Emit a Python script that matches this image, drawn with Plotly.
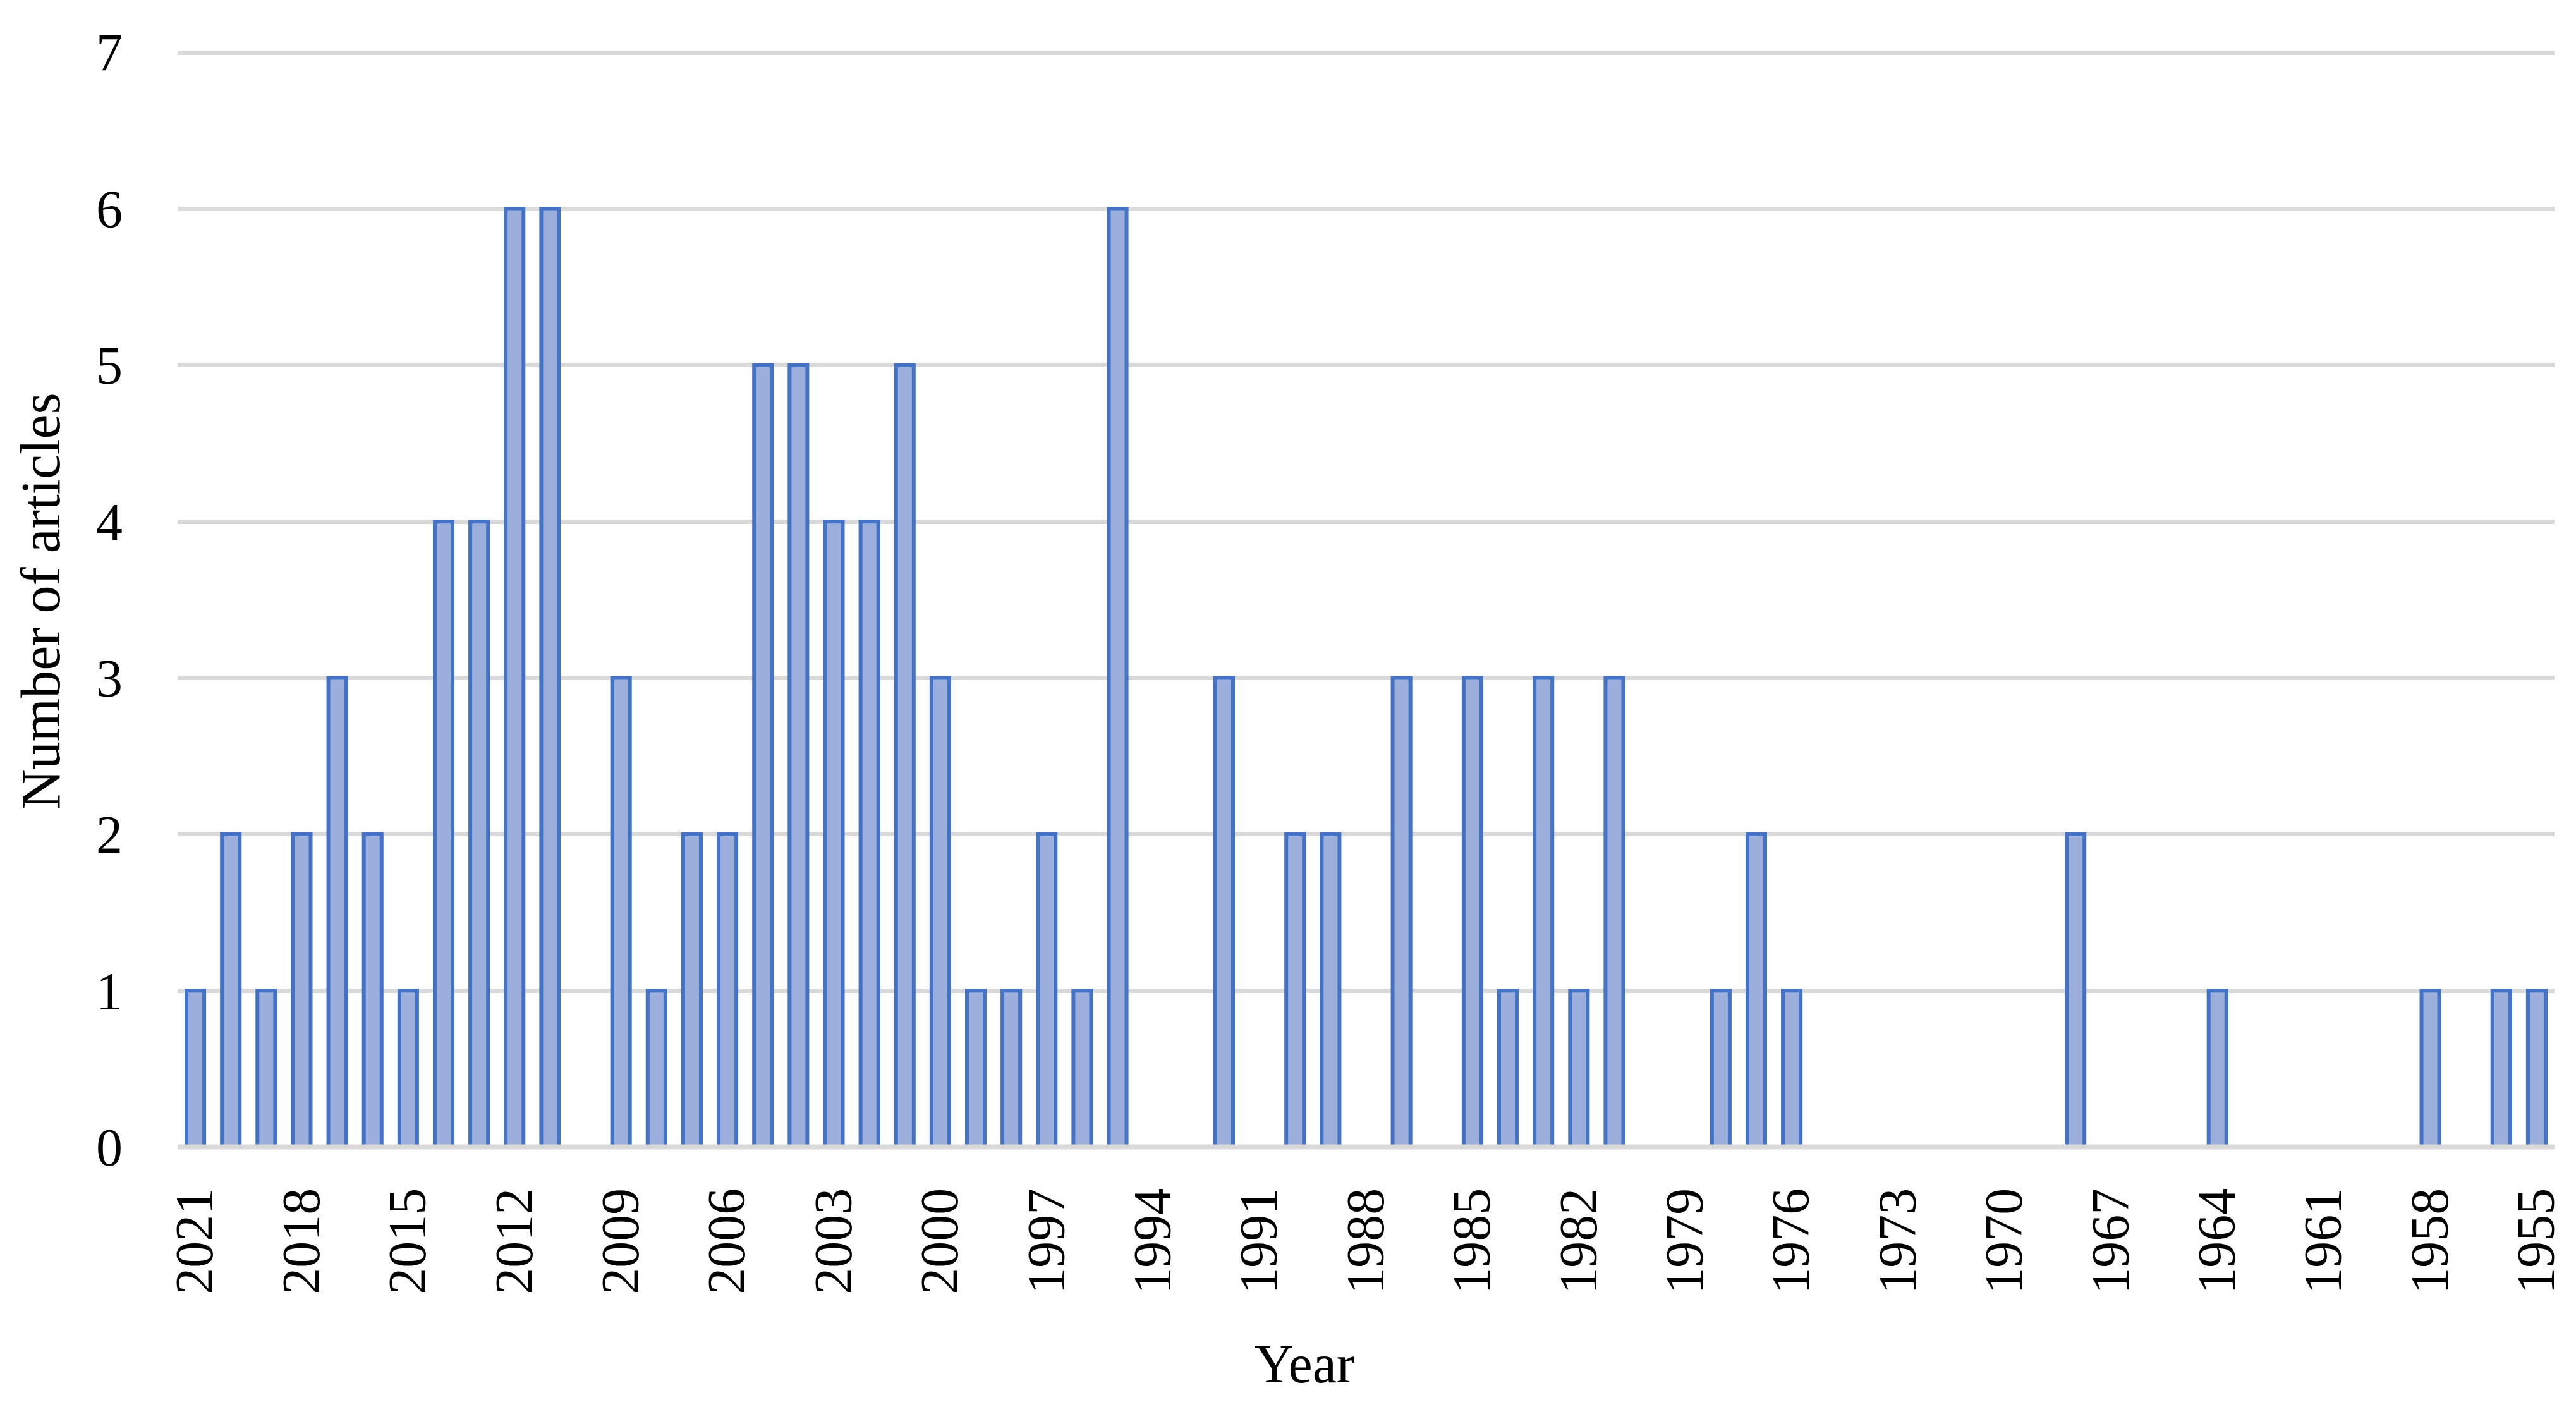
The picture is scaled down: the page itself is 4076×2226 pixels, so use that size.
import plotly.graph_objects as go

years = [str(y) for y in range(2021, 1954, -1)]
articles = [1, 2, 1, 2, 3, 2, 1, 4, 4, 6, 6, 0, 3, 1, 2, 2, 5, 5, 4, 4, 5, 3,
            1, 1, 2, 1, 6, 0, 0, 3, 0, 2, 2, 0, 3, 0, 3, 1, 3, 1, 3, 0, 0, 1,
            2, 1, 0, 0, 0, 0, 0, 0, 0, 2, 0, 0, 0, 1, 0, 0, 0, 0, 0, 1, 0, 1, 1]
tick_labels = years[::3]

FONT = "Liberation Serif"

fig = go.Figure()
fig.add_trace(go.Bar(
    x=years, y=articles,
    marker=dict(color="#9BAEDC",
                line=dict(color="#4472C4", width=[6 if v > 0 else 0 for v in articles])),
))

fig.update_layout(
    width=4076, height=2226,
    paper_bgcolor="white", plot_bgcolor="white",
    margin=dict(l=273, r=42, t=72, b=412),
    bargap=0.5,
    showlegend=False,
    font=dict(family=FONT, size=84, color="black"),
)
fig.update_xaxes(
    type="category",
    categoryorder="array", categoryarray=years,
    range=[-0.5, len(years) - 0.5],
    tickmode="array", tickvals=tick_labels, ticktext=tick_labels,
    tickangle=-90,
    tickfont=dict(family=FONT, size=84),
    ticks="", ticklabelstandoff=40,
    showgrid=False, zeroline=False,
    showline=False,
)
fig.update_yaxes(
    range=[-0.03, 7.0125], dtick=1, tick0=0,
    showgrid=True, gridcolor="#D9D9D9", gridwidth=7,
    zeroline=True, zerolinecolor="#D9D9D9", zerolinewidth=7,
    showline=False,
    tickfont=dict(family=FONT, size=84),
    ticks="", ticklabelstandoff=86,
    title=dict(text="Number of articles", font=dict(family=FONT, size=88), standoff=28),
)
# baseline gridline at zero, drawn over the bar bottoms like the original
fig.add_shape(type="line", xref="paper", yref="y", x0=0, x1=1, y0=0, y1=0,
              line=dict(color="#D9D9D9", width=8), layer="above")
fig.add_annotation(
    text="Year", xref="paper", yref="paper",
    x=(2056 - 273) / (4076 - 273 - 42), y=-(2150 - 1814) / (1814 - 72),
    xanchor="center", yanchor="middle", showarrow=False,
    font=dict(family=FONT, size=86, color="black"),
)

fig.write_html("out.html")
